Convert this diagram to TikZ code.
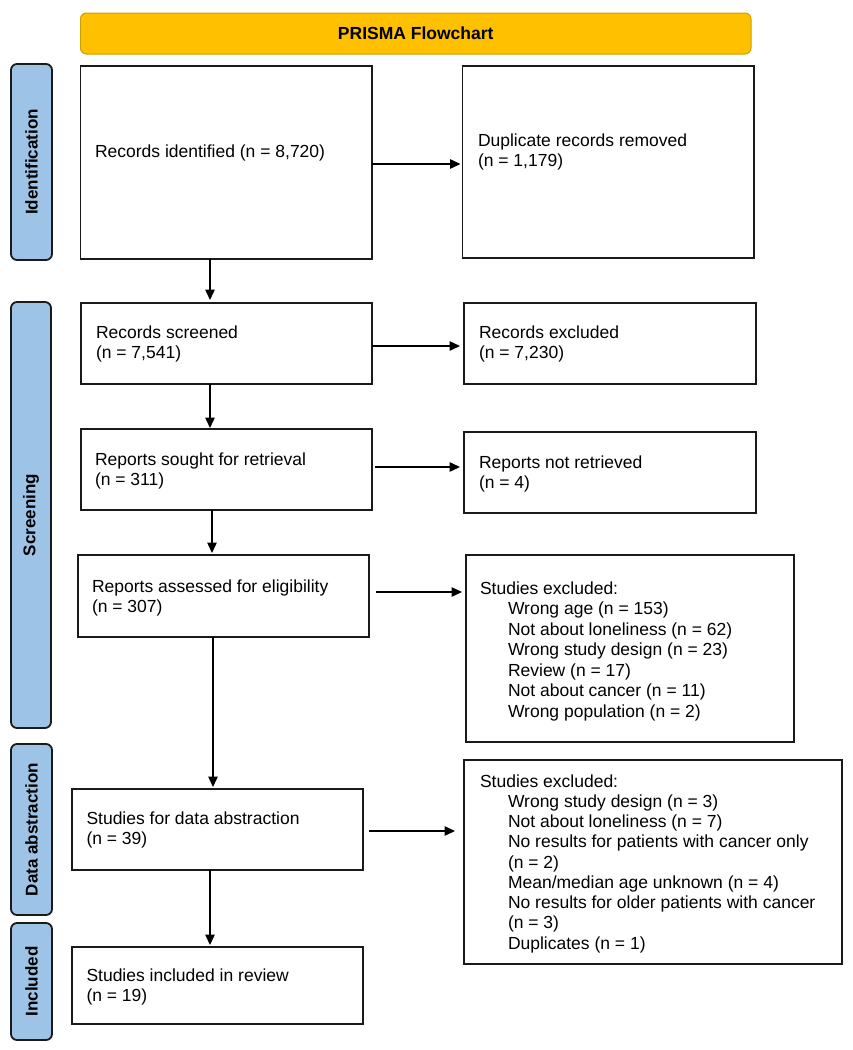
\documentclass[tikz,border=0pt]{standalone}
\usepackage{fontspec}
\setmainfont{Liberation Sans}
\usetikzlibrary{arrows.meta}
\definecolor{banner}{HTML}{FFC000}
\definecolor{bannerline}{HTML}{C9A100}
\definecolor{labelfill}{HTML}{9DC3E6}
\definecolor{edge}{HTML}{1A1A1A}
\begin{document}
\begin{tikzpicture}[x=1pt,y=-1pt,
  box/.style={draw=edge, line width=1.4pt, rectangle, inner sep=0pt, outer sep=0pt},
  lab/.style={draw=edge, fill=labelfill, line width=1.8pt, rounded corners=6pt, inner sep=0pt, outer sep=0pt, rotate=90,
    font=\fontsize{17}{20}\selectfont\bfseries},
  txt/.style={anchor=north west, inner sep=0pt, outer sep=0pt, align=left, font=\fontsize{17.5}{20.5}\selectfont},
  arr/.style={draw=black, line width=1.4pt, -{Triangle[length=10.5pt,width=9.5pt]}},
  ln/.style={draw=black, line width=1.4pt}]
\useasboundingbox (0,0) rectangle (853,1050);
\fill[white] (0,0) rectangle (853,1050);

% banner
\node[draw=bannerline, fill=banner, line width=1pt, rounded corners=6pt, minimum width=670.5pt, minimum height=41pt, inner sep=0pt,
  font=\fontsize{17.5}{20}\selectfont\bfseries] (banner) at (415.75,33.5) {PRISMA Flowchart};

% side labels
\node[lab, minimum width=196pt, minimum height=41pt] (lid) at (31.5,162) {Identification};
\node[lab, minimum width=426pt, minimum height=40pt] (lscr) at (31,515) {Screening};
\node[lab, minimum width=171pt, minimum height=41pt] (labs) at (31.5,829.5) {Data abstraction};
\node[lab, minimum width=117pt, minimum height=41pt] (linc) at (31.5,981.5) {Included};

% boxes
\node[box, minimum width=291.5pt, minimum height=193pt] (id) at (226.25,162.5) {};
\node[box, minimum width=291.5pt, minimum height=192pt] (dup) at (608.25,162) {};
\node[box, minimum width=291pt, minimum height=81pt] (scr) at (226.5,343.5) {};
\node[box, minimum width=292pt, minimum height=81pt] (exc) at (610,343.5) {};
\node[box, minimum width=291pt, minimum height=81pt] (sought) at (226.5,469.5) {};
\node[box, minimum width=292pt, minimum height=81pt] (notret) at (610,472.5) {};
\node[box, minimum width=291pt, minimum height=82pt] (assess) at (223.5,596) {};
\node[box, minimum width=328pt, minimum height=187pt] (excla) at (630,648.5) {};
\node[box, minimum width=291pt, minimum height=81pt] (abs) at (217.5,829.5) {};
\node[box, minimum width=378pt, minimum height=204pt] (exclb) at (653,862) {};
\node[box, minimum width=291pt, minimum height=77pt] (incl) at (217.5,985.5) {};

% texts
\node[txt] (tid) at (95,144.5) {Records identified (n = 8,720)};
\node[txt] (tdup) at (478,133.5) {Duplicate records removed\\(n = 1,179)};
\node[txt] (tscr) at (96,325.5) {Records screened\\(n = 7,541)};
\node[txt] (texc) at (479,325.5) {Records excluded\\(n = 7,230)};
\node[txt] (tsought) at (95,452.5) {Reports sought for retrieval\\(n = 311)};
\node[txt] (tnotret) at (479,455.5) {Reports not retrieved\\(n = 4)};
\node[txt] (tassess) at (92,579.5) {Reports assessed for eligibility\\(n = 307)};
\node[txt] (texcla) at (480,581.5) {Studies excluded:\\
\hspace*{28pt}Wrong age (n = 153)\\
\hspace*{28pt}Not about loneliness (n = 62)\\
\hspace*{28pt}Wrong study design (n = 23)\\
\hspace*{28pt}Review (n = 17)\\
\hspace*{28pt}Not about cancer (n = 11)\\
\hspace*{28pt}Wrong population (n = 2)};
\node[txt] (tabs) at (86.5,811.5) {Studies for data abstraction\\(n = 39)};
\node[txt, font=\fontsize{17.5}{20.25}\selectfont] (texclb) at (480,774.5) {Studies excluded:\\
\hspace*{28pt}Wrong study design (n = 3)\\
\hspace*{28pt}Not about loneliness (n = 7)\\
\hspace*{28pt}No results for patients with cancer only\\
\hspace*{28pt}(n = 2)\\
\hspace*{28pt}Mean/median age unknown (n = 4)\\
\hspace*{28pt}No results for older patients with cancer\\
\hspace*{28pt}(n = 3)\\
\hspace*{28pt}Duplicates (n = 1)};
\node[txt] (tincl) at (86.5,968.5) {Studies included in review\\(n = 19)};

% horizontal arrows
\draw[arr, shorten >=2pt] ([yshift=-1.5pt]id.east) -- ([yshift=-1.5pt]id.east -| dup.west);
\draw[arr, shorten >=4pt] ([yshift=-2.5pt]scr.east) -- ([yshift=-2.5pt]scr.east -| exc.west);
\draw[arr, shorten <=3pt, shorten >=4pt] ([yshift=2.5pt]sought.east) -- ([yshift=2.5pt]sought.east -| notret.west);
\draw[arr, shorten <=7pt, shorten >=4pt] ([yshift=4pt]assess.east) -- ([yshift=4pt]assess.east -| excla.west);
\draw[arr, shorten <=6pt, shorten >=9pt] ([yshift=-1.5pt]abs.east) -- ([yshift=-1.5pt]abs.east -| exclb.west);

% vertical arrows
\draw[arr, shorten >=3pt] ([xshift=-16.25pt]id.south) -- ([xshift=-16.25pt]id.south |- scr.north);
\draw[arr, shorten >=1pt] ([xshift=-16.5pt]scr.south) -- ([xshift=-16.5pt]scr.south |- sought.north);
\draw[arr, shorten >=2pt] ([xshift=-14.5pt]sought.south) -- ([xshift=-14.5pt]sought.south |- assess.north);
\draw[arr, shorten >=2pt] ([xshift=-10.5pt]assess.south) -- ([xshift=-10.5pt]assess.south |- abs.north);
\draw[arr, shorten >=2pt] ([xshift=-7.5pt]abs.south) -- ([xshift=-7.5pt]abs.south |- incl.north);
\end{tikzpicture}
\end{document}
